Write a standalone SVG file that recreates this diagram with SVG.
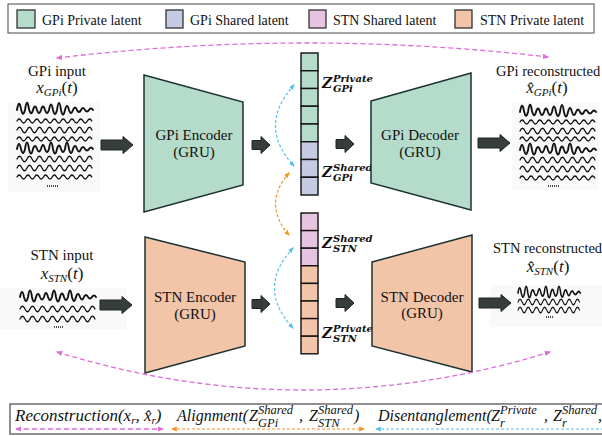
<svg xmlns="http://www.w3.org/2000/svg" xmlns:xlink="http://www.w3.org/1999/xlink" width="602" height="436" viewBox="0 0 602 436">
<style>
.t{font-family:"Liberation Serif","Times New Roman",serif;fill:#111}
.lab{font-size:15px}
.rc{font-size:14.5px}
.leg{font-size:14px}
.it{font-style:italic}
.zm{font-family:"DejaVu Serif",serif;font-weight:bold;font-style:italic;fill:#111}
.sw{stroke:#333;stroke-width:1.3}
.gp{fill:#b5dbcb}
.gs{fill:#c6cbe4}
.ss{fill:#e6c3e0}
.sp{fill:#f2c4a8}
.trap{stroke:#1c3232;stroke-width:1.5}
.cell{stroke:#111;stroke-width:1.4}
.w{fill:none;stroke:#111;stroke-linejoin:round;stroke-linecap:round}
.wb{stroke-width:1.9}
.ws{stroke-width:1.3}
.bx{fill:#f9f9f9}
.ta{fill:#373d3d;stroke:#1d2626;stroke-width:1}
.pk{fill:none;stroke:#df6bd7;stroke-width:1.3;stroke-dasharray:5 3}
.bl{fill:none;stroke:#5bbfec;stroke-width:1.2;stroke-dasharray:3 2}
.or{fill:none;stroke:#f7941d;stroke-width:1.2;stroke-dasharray:3 2}
.dots{stroke:#111;stroke-width:1.4;stroke-dasharray:1 1}
.bt{font-size:16px}
.bs{font-size:12.5px}
</style>
<defs>
<marker id="mpk" viewBox="0 0 10 10" refX="8" refY="5" markerWidth="5" markerHeight="5" orient="auto-start-reverse"><path d="M0,1 L10,5 L0,9 z" fill="#df6bd7"/></marker>
<marker id="mbl" viewBox="0 0 10 10" refX="8" refY="5" markerWidth="5" markerHeight="5" orient="auto-start-reverse"><path d="M0,1 L10,5 L0,9 z" fill="#5bbfec"/></marker>
<marker id="mor" viewBox="0 0 10 10" refX="8" refY="5" markerWidth="5" markerHeight="5" orient="auto-start-reverse"><path d="M0,1 L10,5 L0,9 z" fill="#f7941d"/></marker>
<path id="wb1" class="w wb" d="M0,0 q2,-12 4,-1 q2,9 4,1 q2,-14 4,-1 q2,8 4,1 q2,-7 4,0 q2,6 4,0 q2,-7 4,0 q2,6 4,0 q2,-11 4,0 q2,8 4,0 q2,-14 4,0 q2,9 4,0 q2,-8 4,0 q2,6 4,0 q2,-5 4,0 q2,4 4,0 q2,-4 4,0 q2,3 4,0 q2,-3 4,0"/>
<path id="wb2" class="w wb" d="M0,0 q2,-10 4,0 q2,8 4,0 q2,-13 4,0 q2,9 4,0 q2,-6 4,0 q2,5 4,0 q2,-8 4,0 q2,6 4,0 q2,-13 4,0 q2,9 4,0 q2,-7 4,0 q2,6 4,0 q2,-13 4,0 q2,8 4,0 q2,-6 4,0 q2,5 4,0 q2,-4 4,0 q2,3 4,0 q2,-3 4,0"/>
<path id="ws1" class="w ws" d="M0,0 q2.2,-4 4.4,0 t4.4,0 t4.4,0 t4.4,0 t4.4,0 t4.4,0 t4.4,0 t4.4,0 t4.4,0 t4.4,0 t4.4,0 t4.4,0 t4.4,0 t4.4,0 t4.4,0 t4.4,0 t4.4,0"/>
<path id="ws2" class="w ws" d="M0,0 q2.5,-5.5 5,0 t5,0 t5,0 t5,0 t5,0 t5,0 t5,0 t5,0 t5,0 t5,0 t5,0 t5,0 t5,0 t5,0 t5,0"/>
<path id="ab" class="ta" d="M0,-5 H22 V-8.5 L32,0 L22,8.5 V5 H0 Z"/>
<path id="as" class="ta" d="M0,-4.5 H9 V-8.5 L18,0 L9,8.5 V4.5 H0 Z"/>
</defs>
<rect width="602" height="436" fill="#fff"/>

<g id="legend">
<rect x="8" y="4" width="586" height="29" fill="#fff" stroke="#666" stroke-width="1.2"/>
<rect x="17" y="10" width="18" height="18" class="sw gp"/>
<text x="42" y="25" class="t leg">GPi Private latent</text>
<rect x="166" y="10" width="17" height="18" class="sw gs"/>
<text x="190" y="25" class="t leg">GPi Shared latent</text>
<rect x="309" y="10" width="17" height="18" class="sw ss"/>
<text x="333" y="25" class="t leg">STN Shared latent</text>
<rect x="455" y="10" width="17" height="18" class="sw sp"/>
<text x="480" y="25" class="t leg">STN Private latent</text>
</g>

<g id="gpi-input">
<text x="57" y="76" text-anchor="middle" class="t lab">GPi input</text>
<text x="57" y="93" text-anchor="middle" class="t" font-size="17"><tspan class="it">x</tspan><tspan class="it" font-size="11" dy="3">GPi</tspan><tspan dy="-3">(</tspan><tspan class="it">t</tspan>)</text>
<rect x="8" y="102" width="92" height="90" class="bx"/>
<use xlink:href="#wb1" x="17" y="110"/>
<use xlink:href="#ws1" x="17" y="121"/>
<use xlink:href="#ws2" x="17" y="130"/>
<use xlink:href="#ws1" x="17" y="139"/>
<use xlink:href="#wb2" x="17" y="149"/>
<use xlink:href="#ws2" x="17" y="159"/>
<use xlink:href="#ws2" x="17" y="168"/>
<use xlink:href="#ws1" x="17" y="177"/>
<line x1="47" y1="186" x2="58" y2="186" class="dots"/>
</g>

<g id="stn-input">
<text x="62" y="260" text-anchor="middle" class="t lab">STN input</text>
<text x="62" y="279" text-anchor="middle" class="t" font-size="17"><tspan class="it">x</tspan><tspan class="it" font-size="11" dy="3">STN</tspan><tspan dy="-3">(</tspan><tspan class="it">t</tspan>)</text>
<rect x="0" y="288" width="127" height="41" class="bx"/>
<use xlink:href="#wb2" x="20" y="297"/>
<use xlink:href="#ws2" x="20" y="309"/>
<use xlink:href="#ws2" x="20" y="319"/>
<line x1="54" y1="327" x2="63" y2="327" class="dots"/>
</g>

<g id="gpi-encoder">
<polygon points="144,75 243,102 243,185 144,212" class="trap gp"/>
<text x="194" y="140" text-anchor="middle" class="t lab">GPi Encoder</text>
<text x="194" y="157" text-anchor="middle" class="t lab">(GRU)</text>
</g>

<g id="stn-encoder">
<polygon points="145,237 245,262 245,346 145,373" class="trap sp"/>
<text x="195" y="302" text-anchor="middle" class="t lab">STN Encoder</text>
<text x="195" y="319" text-anchor="middle" class="t lab">(GRU)</text>
</g>

<g id="gpi-latent">
<rect x="301" y="53" width="17" height="17.75" class="cell gp"/>
<rect x="301" y="70.75" width="17" height="17.75" class="cell gp"/>
<rect x="301" y="88.5" width="17" height="17.75" class="cell gp"/>
<rect x="301" y="106.25" width="17" height="17.75" class="cell gp"/>
<rect x="301" y="124" width="17" height="17.75" class="cell gp"/>
<rect x="301" y="141.75" width="17" height="17.75" class="cell gs"/>
<rect x="301" y="159.5" width="17" height="17.75" class="cell gs"/>
<rect x="301" y="177.25" width="17" height="17.75" class="cell gs"/>
<text x="322" y="88" class="zm" font-size="14">Z</text>
<text x="333" y="82" class="zm" font-size="10">Private</text>
<text x="333" y="92" class="zm" font-size="10">GPi</text>
<text x="322" y="177" class="zm" font-size="14">Z</text>
<text x="333" y="171" class="zm" font-size="10">Shared</text>
<text x="333" y="181" class="zm" font-size="10">GPi</text>
</g>

<g id="stn-latent">
<rect x="301" y="213" width="17" height="17.6" class="cell ss"/>
<rect x="301" y="230.6" width="17" height="17.6" class="cell ss"/>
<rect x="301" y="248.2" width="17" height="17.6" class="cell ss"/>
<rect x="301" y="265.8" width="17" height="17.6" class="cell sp"/>
<rect x="301" y="283.4" width="17" height="17.6" class="cell sp"/>
<rect x="301" y="301" width="17" height="17.6" class="cell sp"/>
<rect x="301" y="318.6" width="17" height="17.6" class="cell sp"/>
<rect x="301" y="336.2" width="17" height="17.6" class="cell sp"/>
<text x="322" y="248" class="zm" font-size="14">Z</text>
<text x="333" y="242" class="zm" font-size="10">Shared</text>
<text x="333" y="252" class="zm" font-size="10">STN</text>
<text x="322" y="338" class="zm" font-size="14">Z</text>
<text x="333" y="332" class="zm" font-size="10">Private</text>
<text x="333" y="342" class="zm" font-size="10">STN</text>
</g>

<g id="gpi-decoder">
<polygon points="371,101 471,73 471,210 371,183" class="trap gp"/>
<text x="420" y="140" text-anchor="middle" class="t lab">GPi Decoder</text>
<text x="420" y="157" text-anchor="middle" class="t lab">(GRU)</text>
</g>

<g id="stn-decoder">
<polygon points="372,262 472,235 472,372 372,346" class="trap sp"/>
<text x="422" y="302" text-anchor="middle" class="t lab">STN Decoder</text>
<text x="422" y="318" text-anchor="middle" class="t lab">(GRU)</text>
</g>

<g id="gpi-output">
<text x="496" y="76" class="t rc">GPi reconstructed</text>
<text x="547" y="93" text-anchor="middle" class="t" font-size="17"><tspan class="it">x̂</tspan><tspan class="it" font-size="11" dy="3">GPi</tspan><tspan dy="-3">(</tspan><tspan class="it">t</tspan>)</text>
<rect x="512" y="102" width="86" height="88" class="bx"/>
<use xlink:href="#wb1" x="520" y="112"/>
<use xlink:href="#ws1" x="520" y="122"/>
<use xlink:href="#ws2" x="520" y="131"/>
<use xlink:href="#ws1" x="520" y="139"/>
<use xlink:href="#wb2" x="520" y="150"/>
<use xlink:href="#ws2" x="520" y="160"/>
<use xlink:href="#ws2" x="520" y="169"/>
<use xlink:href="#ws1" x="520" y="178"/>
<line x1="548" y1="186" x2="559" y2="186" class="dots"/>
</g>

<g id="stn-output">
<text x="493" y="253" class="t rc">STN reconstructed</text>
<text x="548" y="272" text-anchor="middle" class="t" font-size="17"><tspan class="it">x̂</tspan><tspan class="it" font-size="11" dy="3">STN</tspan><tspan dy="-3">(</tspan><tspan class="it">t</tspan>)</text>
<rect x="490" y="285" width="112" height="42" class="bx"/>
<use xlink:href="#wb2" transform="translate(518,293) scale(0.82,1)"/>
<use xlink:href="#ws2" transform="translate(518,302) scale(0.82,1)"/>
<use xlink:href="#ws2" transform="translate(518,310) scale(0.82,1)"/>
<line x1="546" y1="317" x2="554" y2="317" class="dots"/>
</g>

<g id="connectors">
<path d="M57,58 Q302,28.5 548,57" class="pk" marker-start="url(#mpk)" marker-end="url(#mpk)"/>
<path d="M57,352 Q303,428 550,352" class="pk" marker-start="url(#mpk)" marker-end="url(#mpk)"/>
<path d="M294,85 Q257,126 294,166" class="bl" marker-start="url(#mbl)" marker-end="url(#mbl)"/>
<path d="M289,173 Q262,204 289,235" class="or" marker-start="url(#mor)" marker-end="url(#mor)"/>
<path d="M293,248 Q256,288 293,328" class="bl" marker-start="url(#mbl)" marker-end="url(#mbl)"/>
<use xlink:href="#ab" x="101" y="145"/>
<use xlink:href="#ab" x="100" y="305"/>
<use xlink:href="#as" x="252" y="145"/>
<use xlink:href="#as" x="252" y="304"/>
<use xlink:href="#as" x="336" y="144"/>
<use xlink:href="#as" x="336" y="303"/>
<use xlink:href="#ab" x="478" y="143"/>
<use xlink:href="#ab" x="479" y="303"/>
</g>

<g id="loss-legend">
<rect x="10" y="404" width="600" height="30" fill="none" stroke="#555" stroke-width="1.3"/>
<text x="15" y="421" class="t it" font-size="17">Reconstruction(x<tspan font-size="11" dy="3">r</tspan><tspan dy="-3">, x̂</tspan><tspan font-size="11" dy="3">r</tspan><tspan dy="-3">)</tspan></text>
<text x="177" y="421" class="t it bt">Alignment(</text>
<text x="249" y="421" class="t it bt">Z</text>
<text x="258" y="414" class="t it bs">Shared</text>
<text x="258" y="427" class="t it bs">GPi</text>
<text x="299" y="421" class="t it bt">,</text>
<text x="309" y="421" class="t it bt">Z</text>
<text x="318" y="414" class="t it bs">Shared</text>
<text x="318" y="427" class="t it bs">STN</text>
<text x="354" y="421" class="t it bt">)</text>
<text x="378" y="421" class="t it bt">Disentanglement(</text>
<text x="491" y="421" class="t it bt">Z</text>
<text x="500" y="414" class="t it bs">Private</text>
<text x="500" y="427" class="t it bs">r</text>
<text x="544" y="421" class="t it bt">,</text>
<text x="553" y="421" class="t it bt">Z</text>
<text x="562" y="414" class="t it bs">Shared</text>
<text x="562" y="427" class="t it bs">r</text>
<text x="598" y="421" class="t it bt">,</text>
<line x1="16" y1="429" x2="163" y2="429" class="pk" stroke-dasharray="2 1.5" marker-start="url(#mpk)" marker-end="url(#mpk)"/>
<line x1="172" y1="429" x2="364" y2="429" class="or" stroke-dasharray="2 1.5" marker-start="url(#mor)" marker-end="url(#mor)"/>
<line x1="376" y1="429" x2="612" y2="429" class="bl" stroke-dasharray="2 1.5" marker-start="url(#mbl)"/>
</g>
</svg>
